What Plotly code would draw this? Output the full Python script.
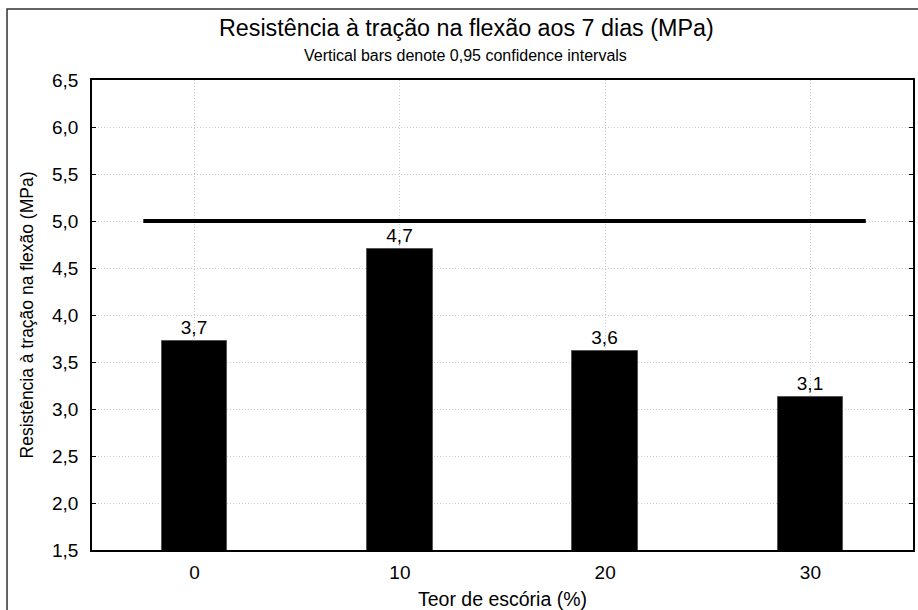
import plotly.graph_objects as go

categories = ["0", "10", "20", "30"]
values = [3.72, 4.70, 3.62, 3.13]
limit_value = 5.0
y_ticks = [1.5, 2.0, 2.5, 3.0, 3.5, 4.0, 4.5, 5.0, 5.5, 6.0, 6.5]

FONT = "Liberation Sans, Arial, sans-serif"
xpos = list(range(len(categories)))

fig = go.Figure()
fig.add_trace(go.Bar(
    x=xpos, y=values, width=0.32,
    marker=dict(color="black", line=dict(color="#555", width=1)),
    text=[f"{v:.1f}".replace(".", ",") for v in values],
    textposition="outside", cliponaxis=False,
    textfont=dict(family=FONT, size=19, color="black"),
    showlegend=False,
))
fig.add_trace(go.Scatter(
    x=[-0.25, 3.27], y=[limit_value, limit_value], mode="lines",
    line=dict(color="black", width=4), showlegend=False,
))

fig.update_layout(
    width=918, height=610,
    margin=dict(l=92, r=5, t=80, b=60, autoexpand=False),
    paper_bgcolor="white", plot_bgcolor="white",
    separators=",.",
    font=dict(family=FONT, color="black"),
    bargap=0,
    title=dict(
        text="Resistência à tração na flexão aos 7 dias (MPa)",
        x=0.508, xanchor="center", y=0.954, yanchor="middle",
        font=dict(family=FONT, size=23.3, color="black"),
    ),
    annotations=[dict(
        text="Vertical bars denote 0,95 confidence intervals",
        xref="paper", yref="paper", x=0.455, y=1.053,
        xanchor="center", yanchor="middle", showarrow=False,
        font=dict(family=FONT, size=16, color="black"),
    )],
    shapes=[dict(
        type="rect", xref="paper", yref="paper",
        x0=-0.1035, x1=1.02, y0=-0.2, y1=1.151,
        line=dict(color="#333", width=1.5), fillcolor="rgba(0,0,0,0)", layer="below",
    )],
    xaxis=dict(
        range=[-0.5, 3.5], tickmode="array", tickvals=xpos, ticktext=categories,
        showgrid=True, gridcolor="#cccccc", griddash="1px,2px", gridwidth=1,
        showline=True, linecolor="black", linewidth=1.5, mirror=True,
        ticks="", ticklabelstandoff=4, automargin=False,
        tickfont=dict(family=FONT, size=19, color="black"),
        title=dict(text="Teor de escória (%)", font=dict(family=FONT, size=19.5, color="black"), standoff=12),
        zeroline=False,
    ),
    yaxis=dict(
        range=[1.5, 6.5], tickmode="array", tickvals=y_ticks,
        ticktext=[f"{v:.1f}".replace(".", ",") for v in y_ticks],
        showgrid=True, gridcolor="#cccccc", griddash="1px,2px", gridwidth=1,
        showline=True, linecolor="black", linewidth=1.5, mirror="ticks",
        ticks="inside", ticklen=4, tickcolor="black", ticklabelstandoff=8,
        automargin=False,
        tickfont=dict(family=FONT, size=19, color="black"),
        title=dict(text="Resistência à tração na flexão (MPa)", font=dict(family=FONT, size=17.5, color="black"), standoff=14),
        zeroline=False,
    ),
)

fig.write_html("out.html")
